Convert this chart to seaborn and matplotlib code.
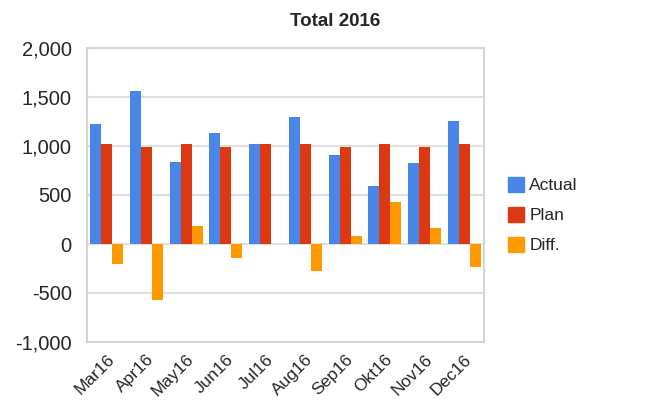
import matplotlib
matplotlib.use("Agg")
import matplotlib.pyplot as plt
import matplotlib.ticker as mticker
import pandas as pd
import seaborn as sns

months = ["Mar16", "Apr16", "May16", "Jun16", "Jul16", "Aug16", "Sep16", "Okt16", "Nov16", "Dec16"]
actual = [1225, 1560, 835, 1130, 1020, 1295, 905, 590, 825, 1255]
plan = [1020, 990, 1020, 990, 1020, 1020, 990, 1020, 990, 1020]
diff = [-205, -570, 185, -140, 0, -275, 85, 430, 165, -235]
series_names = ["Actual", "Plan", "Diff."]
series_colors = ["#4a86e8", "#dc3912", "#ff9900"]

df = pd.concat(
    [
        pd.DataFrame({"month": months, "series": name, "value": vals})
        for name, vals in zip(series_names, [actual, plan, diff])
    ],
    ignore_index=True,
)

sns.set_theme(style="white")
plt.rcParams["font.family"] = ["Liberation Sans", "DejaVu Sans"]

fig = plt.figure(figsize=(6.7, 4.0), dpi=100)
ax = fig.add_axes([87 / 670, 58 / 400, 397 / 670, 294 / 400])

sns.barplot(
    data=df, x="month", y="value", hue="series", order=months,
    hue_order=series_names, palette=series_colors, width=0.83, gap=0,
    saturation=1, linewidth=0, ax=ax, legend=False, zorder=3,
)

ax.set_ylim(-1000, 2000)
ax.set_xlim(-0.5, len(months) - 0.5)
ax.yaxis.set_major_locator(mticker.MultipleLocator(500))
ax.yaxis.set_major_formatter(mticker.FuncFormatter(lambda v, _: f"{v:,.0f}"))
ax.grid(axis="y", color="#e0e0e0", linewidth=1.5, zorder=0)
ax.set_axisbelow(True)
ax.set_xlabel("")
ax.set_ylabel("")

for side in ["left", "bottom", "top", "right"]:
    ax.spines[side].set_color("#d4d4d4")
    ax.spines[side].set_linewidth(1.5)

ax.set_xticks(range(len(months)))
ax.set_xticks([i - 0.5 for i in range(len(months) + 1)], minor=True)
ax.tick_params(axis="x", which="major", length=0, pad=7, labelsize=12.5)
ax.tick_params(axis="x", which="minor", length=5, color="#d4d4d4", width=1.5)
ax.tick_params(axis="y", length=5, color="#d4d4d4", width=1.5, labelsize=14.5, pad=6)
for lab in ax.get_xticklabels():
    lab.set_rotation(45)
    lab.set_ha("right")
    lab.set_rotation_mode("anchor")

fig.text(0.5, 1 - 21 / 400, "Total 2016", ha="center", va="center",
         fontsize=13.5, fontweight="bold")

handles = [plt.Rectangle((0, 0), 1, 1, color=c) for c in series_colors]
fig.legend(handles, series_names, loc="center left",
           bbox_to_anchor=(492 / 670, 1 - 215 / 400), frameon=False,
           fontsize=12.5, handlelength=0.95, handleheight=0.95,
           handletextpad=0.3, labelspacing=0.78)

fig.savefig("out.png", dpi=100)
